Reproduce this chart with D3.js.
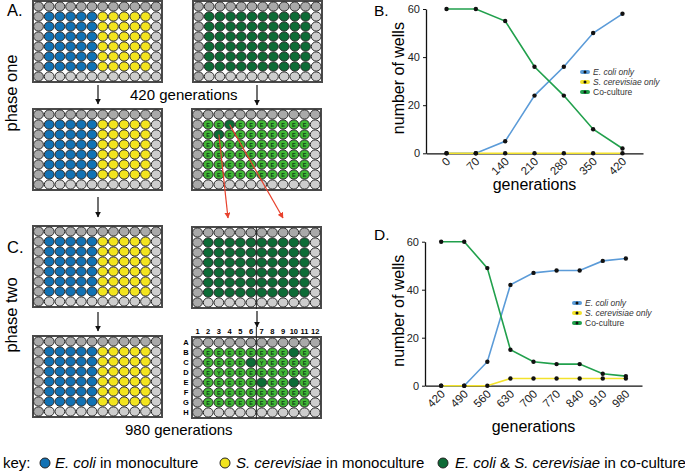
<!DOCTYPE html>
<html><head><meta charset="utf-8">
<script src="https://cdn.jsdelivr.net/npm/d3@7"></script>
<style>body{margin:0;background:#fff} svg{display:block;font-family:"Liberation Sans",Arial,sans-serif}</style>
</head><body><svg id="c" width="685" height="474"></svg>
<script>
// ---------- data ----------
const rowLetters = ["A","B","C","D","E","F","G","H"];
const colNumbers = [1,2,3,4,5,6,7,8,9,10,11,12];
// plate layouts: . = empty, B = E. coli, Y = S. cerevisiae, G = co-culture (dark),
// e = co-culture sampled "E", y = co-culture sampled "Y"
const monoLayout = ["............",".BBBBBYYYYY.",".BBBBBYYYYY.",".BBBBBYYYYY.",".BBBBBYYYYY.",".BBBBBYYYYY.",".BBBBBYYYYY.","............"];
const coLayout = ["............",".GGGGGGGGGG.",".GGGGGGGGGG.",".GGGGGGGGGG.",".GGGGGGGGGG.",".GGGGGGGGGG.",".GGGGGGGGGG.","............"];
const phaseOneEndLayout = ["............",".eeGeeeeeeee".slice(0,11)+".",".eGeeeeeeee.",".eeeeeeeeee.",".eeeeeeeeee.",".eeeeeeeeee.",".eeeeeeeeee.","............"];
const phaseTwoEndLayout = ["............",".eeeeeeeeGe.",".eeeeGyeeee.",".eyeeeeeyee.",".eeeeeGeeGe.",".eeeeeeeeee.",".eeeeeeeeee.","............"];

const gensB = ["0","70","140","210","280","350","420"];
const ecoliB = [0,0,5,24,36,50,58];
const yeastB = [0,0,0,0,0,0,0];
const coB = [60,60,55,36,24,10,2];
const gensD = ["420","490","560","630","700","770","840","910","980"];
const ecoliD = [0,0,10,42,47,48,48,52,53];
const yeastD = [0,0,0,3,3,3,3,3,3];
const coD = [60,60,49,15,10,9,9,5,4];
const yTicks = [0,20,40,60];
const seriesNames = ["E. coli only","S. cerevisiae only","Co-culture"];
const seriesColors = ["#5b9bd8","#f3e22c","#21a04c"];

// ---------- drawing ----------
const svg = d3.select("#c");
const defs = svg.append("defs");
function mk(id, col){
  defs.append("marker").attr("id",id).attr("viewBox","0 0 10 10").attr("refX",9).attr("refY",5)
    .attr("markerWidth",6).attr("markerHeight",6).attr("markerUnits","userSpaceOnUse").attr("orient","auto")
    .append("path").attr("d","M0,0L10,5L0,10Z").attr("fill",col);
}
mk("ab","#111"); mk("ar","#e8412c");

const wellFill = {B:"#1272b4", Y:"#f2e41e", G:"#0d6b36", e:"#41b735", y:"#41b735"};
const colX = d3.scalePoint().domain(colNumbers).range([5.5,123.2]);
const rowY = d3.scalePoint().domain(rowLetters).range([5.5,75.5]);

function plate(px, py, layout, opts={}){
  const g = svg.append("g").attr("transform",`translate(${px},${py})`);
  g.append("rect").attr("x",0).attr("y",0).attr("width",129).attr("height",81)
    .attr("fill","#fff").attr("stroke","#4a4a4a").attr("stroke-width",2);
  const cells = [];
  layout.forEach((row,r)=>row.split("").forEach((ch,c)=>cells.push({r:rowLetters[r],c:colNumbers[c],ch,ri:r,ci:c})));
  g.selectAll("ellipse").data(cells).join("ellipse")
    .attr("cx",d=>colX(d.c)).attr("cy",d=>rowY(d.r)).attr("rx",4.9).attr("ry",4.6)
    .attr("fill",d=>d.ch==="."?((d.ri===0||d.ci===0)?"#a9a9a9":"#cdcdcd"):wellFill[d.ch])
    .attr("stroke","#2a2a2a").attr("stroke-width",1);
  g.selectAll("text.lt").data(cells.filter(d=>d.ch==="e"||d.ch==="y")).join("text").attr("class","lt")
    .attr("x",d=>colX(d.c)).attr("y",d=>rowY(d.r)+2).attr("text-anchor","middle")
    .attr("font-size",5.5).attr("font-weight","bold").attr("fill","#12401a")
    .text(d=>d.ch==="e"?"E":"Y");
  if(opts.divider){
    g.append("line").attr("x1",(colX(6)+colX(7))/2).attr("x2",(colX(6)+colX(7))/2)
      .attr("y1",opts.dividerTop||0).attr("y2",82).attr("stroke","#222").attr("stroke-width",1);
  }
  if(opts.labels){
    g.selectAll("text.cl").data(colNumbers).join("text").attr("class","cl")
      .attr("x",d=>colX(d)).attr("y",-3).attr("text-anchor","middle").attr("font-size",7.5).attr("font-weight","bold").text(d=>d);
    g.selectAll("text.rl").data(rowLetters).join("text").attr("class","rl")
      .attr("x",-6).attr("y",d=>rowY(d)+2.7).attr("text-anchor","middle").attr("font-size",7.5).attr("font-weight","bold").text(d=>d);
  }
  return g;
}

plate(33,1,monoLayout);
plate(193,1,coLayout);
plate(33,109,monoLayout);
const p4 = plate(192,109,phaseOneEndLayout);
plate(33,226,monoLayout);
plate(192,227,coLayout,{divider:true});
plate(33,336,monoLayout);
plate(192,337,phaseTwoEndLayout,{divider:true,labels:true,dividerTop:-10});

function arrow(x1,y1,x2,y2,col,m){
  svg.append("line").attr("x1",x1).attr("y1",y1).attr("x2",x2).attr("y2",y2)
    .attr("stroke",col).attr("stroke-width",1.2).attr("marker-end",`url(#${m})`);
}
arrow(98,85,98,104,"#111","ab");
arrow(257,85,257,105,"#111","ab");
arrow(98,197,98,217,"#111","ab");
arrow(98,312,98,331,"#111","ab");
arrow(257,311,257,327,"#111","ab");
arrow(192+colX(3),109+rowY("C"),228,218,"#e8412c","ar");
arrow(192+colX(4),109+rowY("B"),283,218,"#e8412c","ar");

const big = 16.5;
svg.append("text").attr("x",7).attr("y",16).attr("font-size",big).text("A.");
svg.append("text").attr("x",7).attr("y",253).attr("font-size",big).text("C.");
svg.append("text").attr("transform","translate(17,93) rotate(-90)").attr("text-anchor","middle").attr("font-size",big).text("phase one");
svg.append("text").attr("transform","translate(17,315) rotate(-90)").attr("text-anchor","middle").attr("font-size",big).text("phase two");
svg.append("text").attr("x",130).attr("y",100).attr("font-size",15).text("420 generations");
svg.append("text").attr("x",125).attr("y",435).attr("font-size",15).text("980 generations");

// key
const keyY = 463;
svg.append("text").attr("x",3).attr("y",keyY+5).attr("font-size",15).text("key:");
const keyItems = [
  {cx:45, col:wellFill.B, x:55, parts:[["E. coli",true],[" in monoculture",false]]},
  {cx:225, col:wellFill.Y, x:236, parts:[["S. cerevisiae",true],[" in monoculture",false]]},
  {cx:443, col:wellFill.G, x:455, parts:[["E. coli",true],[" & ",false],["S. cerevisiae",true],[" in co-culture",false]]}
];
keyItems.forEach(k=>{
  svg.append("circle").attr("cx",k.cx).attr("cy",keyY).attr("r",5).attr("fill",k.col).attr("stroke","#222").attr("stroke-width",1);
  const t = svg.append("text").attr("x",k.x).attr("y",keyY+5).attr("font-size",15).attr("xml:space","preserve");
  k.parts.forEach(p=>t.append("tspan").attr("font-style",p[1]?"italic":"normal").text(p[0]));
});

// charts
function chart(o){
  const g = svg.append("g");
  const x = d3.scalePoint().domain(o.gens).range([o.x0,o.x1]).padding(0.7);
  const y = d3.scaleLinear().domain([0,60]).range([o.y0,o.y1]);
  g.append("g").attr("transform",`translate(0,${o.y0})`)
    .call(d3.axisBottom(x).tickSize(0).tickSizeOuter(0).tickFormat(d=>d))
    .call(a=>{a.select(".domain").attr("stroke","#111").attr("stroke-width",1.3);
      a.selectAll("text").attr("font-size",11.5).attr("fill","#222").attr("font-family","Liberation Sans, Arial")
       .attr("text-anchor","end").attr("dy",null).attr("y",null)
       .attr("transform","translate(4,9) rotate(-45)");});
  g.append("g").attr("transform",`translate(${o.x0},0)`)
    .call(d3.axisLeft(y).tickValues(yTicks).tickSize(3).tickPadding(3).tickSizeOuter(0))
    .call(a=>{a.select(".domain").attr("stroke","#111").attr("stroke-width",1.3);
      a.selectAll("line").attr("stroke","#111");
      a.selectAll("text").attr("font-size",11).attr("fill","#222").attr("font-family","Liberation Sans, Arial");});
  const series = [o.ecoli, o.co, o.yeast];
  const cols = [seriesColors[0], seriesColors[2], seriesColors[1]];
  const line = d3.line().x((d,i)=>x(o.gens[i])).y(d=>y(d));
  series.forEach((s,i)=>g.append("path").datum(s).attr("d",line).attr("fill","none").attr("stroke",cols[i]).attr("stroke-width",1.6));
  series.forEach(s=>g.selectAll(null).data(s).join("circle").attr("cx",(d,i)=>x(o.gens[i])).attr("cy",d=>y(d)).attr("r",2.2).attr("fill","#111"));
  svg.append("text").attr("transform",`translate(${o.ylx},${(o.y0+o.y1)/2-3}) rotate(-90)`).attr("text-anchor","middle").attr("font-size",16).text("number of wells");
  svg.append("text").attr("x",(o.x0+o.x1)/2).attr("y",o.xly).attr("text-anchor","middle").attr("font-size",16).text("generations");
  svg.append("text").attr("x",o.lx-1).attr("y",o.ly).attr("font-size",15.5).text(o.letter);
  seriesNames.forEach((n,i)=>{
    const yy = o.legY + i*10;
    g.append("line").attr("x1",o.legX).attr("x2",o.legX+6).attr("y1",yy).attr("y2",yy)
      .attr("stroke",seriesColors[i]).attr("stroke-width",4).attr("stroke-linecap","round");
    g.append("circle").attr("cx",o.legX+3).attr("cy",yy).attr("r",1.5).attr("fill","#111");
    g.append("text").attr("x",o.legX+11).attr("y",yy+3).attr("font-size",8.5).attr("fill","#333")
      .attr("font-style",i<2?"italic":"normal").text(n);
  });
}
chart({gens:gensB, ecoli:ecoliB, yeast:yeastB, co:coB, x0:426, x1:643, y0:153.3, y1:9,
  ylx:404, xly:190, letter:"B.", lx:375, ly:16, legX:582, legY:72});
chart({gens:gensD, ecoli:ecoliD, yeast:yeastD, co:coD, x0:425, x1:642, y0:385.7, y1:241.7,
  ylx:404, xly:432, letter:"D.", lx:375, ly:240, legX:574, legY:303});
</script></body></html>
